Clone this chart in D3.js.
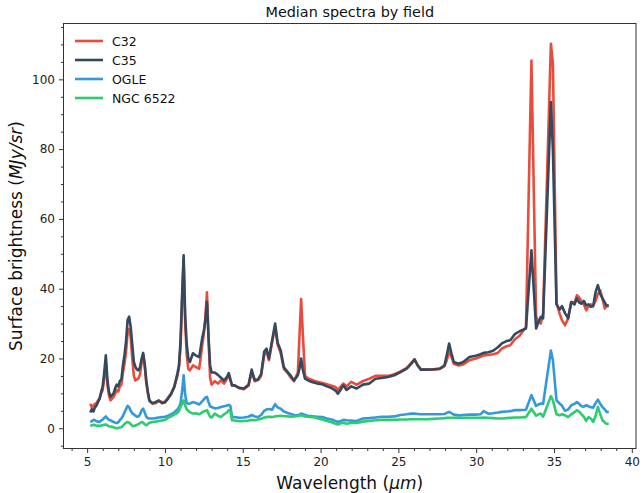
<!DOCTYPE html>
<html>
<head>
<meta charset="utf-8">
<script src="https://cdn.jsdelivr.net/npm/d3@7"></script>
<style>
  html, body { margin: 0; padding: 0; background: #fff; }
  svg { display: block; font-family: "DejaVu Sans", sans-serif; }
</style>
</head>
<body>
<svg id="chart" width="642" height="493"></svg>
<script>
// Wavelength grid (µm): finer sampling in the short-wavelength module, coarser beyond 14 µm
const wavelength = [
  5.2, 5.3, 5.4, 5.5, 5.6, 5.7, 5.8, 5.9, 6.0, 6.1, 6.2, 6.3, 6.4, 6.5, 6.6, 6.7, 6.8, 6.9,
  7.0, 7.1, 7.2, 7.3, 7.4, 7.5, 7.6, 7.7, 7.8, 7.9, 8.0, 8.1, 8.2, 8.3, 8.4, 8.5, 8.6, 8.7,
  8.8, 8.9, 9.0, 9.2, 9.4, 9.6, 9.8, 10.0, 10.2, 10.4, 10.6, 10.8, 10.9, 11.0, 11.1, 11.2,
  11.3, 11.4, 11.5, 11.6, 11.8, 12.0, 12.2, 12.4, 12.5, 12.6, 12.7, 12.8, 12.9, 13.0, 13.2,
  13.4, 13.6, 13.8, 14.0, 14.1, 14.2,
  14.31, 14.47, 14.77, 15.07, 15.37, 15.57, 15.77, 15.98, 16.18, 16.38, 16.53, 16.68, 16.88,
  17.08, 17.24, 17.44, 17.64, 17.89, 18.09, 18.29, 18.54, 18.64, 18.75, 18.85, 19.0, 19.2,
  19.5, 19.8, 20.1, 20.41, 20.71, 20.96, 21.11, 21.31, 21.46, 21.67, 21.97, 22.32, 22.72,
  23.13, 23.53, 23.93, 24.33, 24.74, 25.14, 25.54, 25.84, 26.04, 26.24, 26.44, 26.85, 27.25,
  27.66, 27.96, 28.11, 28.26, 28.41, 28.56, 28.86, 29.17, 29.57, 29.97, 30.28, 30.48, 30.78,
  31.09, 31.39, 31.65, 31.95, 32.19, 32.49, 32.79, 33.2, 33.55, 33.85, 34.0, 34.15, 34.3,
  34.8, 34.93, 35.16, 35.36, 35.51, 35.71, 35.91, 36.11, 36.32, 36.47, 36.62, 36.77, 36.92,
  37.07, 37.22, 37.37, 37.52, 37.67, 37.82, 37.97, 38.12, 38.27, 38.37, 38.52
];

// Median surface brightness (MJy/sr) per field
const c32 = [
  7.0, 6.0, 6.5, 7.0, 7.2, 8.0, 8.5, 10.0, 11.0, 14.5, 19.0, 12.5, 9.5, 8.0, 8.5, 9.0, 10.0, 11.0,
  10.5, 12.0, 12.5, 16.0, 18.5, 22.0, 27.5, 28.5, 26.0, 20.0, 15.0, 13.7, 14.0, 14.3, 15.5, 19.0, 21.0, 17.5,
  13.0, 10.0, 7.8, 7.0, 7.2, 7.8, 7.5, 7.6, 8.8, 10.0, 12.0, 15.0, 17.5, 23.0, 36.0, 48.5,
  30.0, 21.0, 17.0, 16.6, 18.0, 17.5, 17.0, 24.0, 27.0, 32.0, 39.0, 26.0, 14.5, 12.5, 13.5,
  12.8, 13.7, 12.8, 14.3, 15.5, 14.0,
  12.3, 12.3, 11.5, 11.2, 12.2, 16.0, 13.5, 13.8, 15.0, 21.0, 22.0, 19.5, 24.5,
  29.0, 24.0, 21.5, 17.0, 15.8, 14.5, 13.5, 16.0, 26.0, 37.0, 28.0, 15.0, 14.3,
  13.8, 13.3, 13.0, 12.6, 12.2, 11.8, 11.0, 12.0, 12.8, 12.0, 13.3, 12.5, 13.5,
  14.2, 15.0, 15.0, 15.0, 15.5, 16.3, 17.3, 18.8, 19.8, 18.0, 17.0, 16.8, 16.8,
  17.0, 17.8, 19.5, 22.0, 20.5, 18.5, 18.0, 18.3, 19.5, 20.0, 20.5, 20.9, 21.0,
  21.2, 21.6, 22.8, 23.5, 23.8, 25.5, 26.5, 29.0, 105.4, 32.0, 30.5, 30.0, 33.0,
  110.2, 104.5, 36.0, 32.9, 31.0, 29.5, 31.5, 36.2, 36.0, 38.1, 37.5, 36.2, 35.5,
  33.8, 35.0, 35.5, 35.2, 36.5, 38.5, 39.5, 37.0, 34.3, 35.0, 35.0
];

const c35 = [
  4.5, 5.5, 4.8, 6.0, 6.5, 7.5, 8.5, 10.4, 12.0, 16.0, 20.9, 14.0, 10.5, 9.0, 9.5, 10.0, 11.5, 12.5,
  12.0, 13.5, 14.0, 18.0, 21.0, 25.0, 31.0, 32.0, 29.0, 24.0, 19.0, 17.6, 16.8, 16.6, 17.5, 20.0, 21.6, 18.5,
  13.7, 10.5, 8.0, 7.2, 7.5, 8.0, 7.2, 7.4, 8.5, 9.8, 11.8, 15.7, 18.0, 25.0, 38.0, 49.6,
  32.0, 24.0, 20.0, 19.0, 21.5, 20.8, 20.4, 26.0, 28.0, 31.0, 36.2, 26.0, 18.0, 16.0, 16.0,
  15.3, 14.5, 13.7, 14.8, 15.8, 14.0,
  12.3, 12.3, 11.6, 11.4, 12.5, 16.8, 13.8, 14.0, 15.5, 22.0, 22.8, 20.0, 25.0,
  30.0, 24.5, 22.3, 17.5, 16.1, 15.0, 13.7, 15.2, 17.0, 20.0, 17.0, 14.2, 13.7,
  13.2, 12.8, 12.6, 12.0, 11.5, 10.8, 9.9, 11.2, 12.3, 11.0, 12.0, 11.4, 12.5,
  12.8, 14.2, 14.4, 14.7, 15.2, 16.1, 17.1, 18.5, 19.7, 18.0, 16.8, 16.8, 16.9,
  17.1, 18.0, 21.0, 24.3, 21.5, 19.0, 18.5, 19.0, 20.4, 20.8, 21.2, 21.6, 21.8,
  22.2, 23.2, 24.3, 25.0, 25.2, 27.0, 27.8, 28.6, 51.0, 28.6, 30.5, 31.9, 31.5,
  93.5, 79.7, 35.5, 34.0, 35.0, 33.0, 31.5, 36.2, 35.5, 37.2, 36.0, 35.7, 36.5,
  35.2, 35.5, 34.8, 35.0, 39.0, 41.0, 38.5, 37.2, 36.0, 35.2, 35.2
];

const ogle = [
  1.8, 2.0, 2.4, 2.3, 2.0, 1.9, 1.8, 2.2, 2.5, 3.0, 3.4, 2.8, 2.4, 2.3, 2.0, 1.8, 1.6, 1.5,
  1.7, 2.3, 2.8, 3.5, 4.5, 5.5, 6.4, 6.0, 5.0, 4.3, 4.0, 3.6, 3.3, 3.4, 4.0, 5.2, 5.6, 4.5,
  3.3, 2.9, 2.8, 2.8, 2.9, 3.1, 3.2, 3.3, 3.6, 4.0, 4.6, 5.4, 6.0, 7.1, 10.5, 15.2,
  9.5, 7.2, 7.0, 7.1, 7.5, 7.2, 6.8, 7.8, 8.3, 8.8, 9.0, 7.5, 6.3, 6.1, 5.7,
  5.8, 6.1, 6.3, 6.5, 6.7, 6.5,
  3.3, 3.2, 3.0, 3.1, 3.3, 3.8, 3.4, 3.2, 3.8, 5.0, 5.4, 5.5, 5.3,
  6.9, 6.0, 5.6, 4.8, 4.4, 4.1, 3.8, 3.7, 3.9, 4.2, 4.1, 3.8, 3.6,
  3.4, 3.3, 3.2, 2.8, 2.5, 2.1, 1.8, 2.1, 2.4, 2.3, 2.2, 2.1, 2.8,
  2.9, 3.1, 3.3, 3.3, 3.4, 3.8, 4.0, 4.2, 4.2, 4.1, 4.0, 4.0, 4.0,
  4.0, 4.1, 4.4, 4.7, 4.3, 3.9, 3.7, 3.8, 3.9, 3.9, 4.0, 4.9, 4.2,
  4.3, 4.5, 4.7, 4.8, 4.9, 5.2, 5.2, 5.3, 9.5, 6.4, 6.8, 7.1, 7.0,
  22.3, 19.5, 8.0, 7.1, 6.5, 5.0, 5.4, 6.6, 7.0, 7.5, 7.0, 6.3, 6.2,
  6.6, 6.3, 6.0, 5.9, 7.2, 8.2, 7.0, 6.0, 5.4, 4.7, 4.7
];

const ngc6522 = [
  0.9, 0.8, 1.0, 0.9, 0.7, 0.8, 0.6, 0.8, 0.9, 1.0, 1.1, 0.8, 0.6, 0.5, 0.4, 0.3, 0.1, 0.0,
  0.1, 0.2, 0.3, 0.7, 1.2, 1.6, 1.8, 1.6, 1.2, 0.7, 0.6, 0.8, 1.0, 1.2, 1.5, 1.8, 1.6, 1.1,
  0.9, 1.2, 1.6, 1.8, 1.9, 2.1, 2.2, 2.4, 3.0, 3.4, 3.9, 4.4, 5.0, 6.1, 7.0, 8.0,
  6.5, 5.4, 5.0, 4.6, 4.2, 4.3, 4.0, 4.6, 4.8, 5.0, 5.2, 4.2, 3.3, 3.1, 4.2,
  3.6, 3.2, 4.0, 4.6, 5.2, 5.0,
  2.3, 2.2, 2.0, 2.1, 2.2, 2.4, 2.3, 2.5, 2.7, 3.1, 3.2, 3.3, 3.2,
  3.4, 3.5, 3.6, 3.5, 3.4, 3.3, 3.4, 3.5, 3.6, 3.7, 3.6, 3.4, 3.3,
  3.2, 2.9, 2.5, 2.1, 1.7, 1.3, 1.1, 1.4, 1.6, 1.3, 1.5, 1.5, 1.9,
  2.1, 2.3, 2.4, 2.4, 2.4, 2.5, 2.5, 2.6, 2.6, 2.6, 2.6, 2.6, 2.7,
  2.8, 2.9, 3.0, 3.0, 3.0, 3.0, 3.0, 3.0, 3.0, 3.0, 3.0, 3.1, 3.0,
  2.9, 2.8, 2.8, 2.9, 3.0, 3.1, 3.1, 3.2, 5.6, 3.6, 4.0, 4.2, 3.3,
  9.2, 8.0, 4.0, 3.7, 4.0, 3.7, 3.2, 4.0, 4.6, 5.2, 4.8, 4.0, 3.3,
  2.1, 3.2, 2.8, 1.8, 3.5, 6.1, 4.0, 2.3, 1.6, 1.3, 1.3
];

const seriesNames = ["C32", "C35", "OGLE", "NGC 6522"];
const seriesColors = ["#e74c3c", "#34495e", "#3498db", "#2ecc71"];
const seriesValues = [c32, c35, ogle, ngc6522];

const xTicks = [5, 10, 15, 20, 25, 30, 35, 40];
const yTicks = [0, 20, 40, 60, 80, 100];

const svg = d3.select("#chart");
const plot = { left: 63.5, right: 636, top: 23.5, bottom: 448.5 };

const x = d3.scaleLinear().domain([3.48, 40.27]).range([plot.left, plot.right]);
const y = d3.scaleLinear().domain([-5.8, 116]).range([plot.bottom, plot.top]);

// Spectra
const line = d3.line()
  .x((d, i) => x(wavelength[i]))
  .y(d => y(d));

const clip = svg.append("clipPath").attr("id", "plot-clip")
  .append("rect")
  .attr("x", plot.left).attr("y", plot.top)
  .attr("width", plot.right - plot.left).attr("height", plot.bottom - plot.top);

const lines = svg.append("g").attr("clip-path", "url(#plot-clip)");
seriesValues.forEach((vals, k) => {
  lines.append("path")
    .datum(vals)
    .attr("d", line)
    .attr("fill", "none")
    .attr("stroke", seriesColors[k])
    .attr("stroke-width", 2.6)
    .attr("stroke-linejoin", "round")
    .attr("stroke-linecap", "butt");
});

// Axes
const axisColor = "#333";
const xMinor = d3.range(4, 41, 1).filter(v => v % 5 !== 0);
const yMinor = d3.range(-5, 116, 5).filter(v => v % 20 !== 0);

const xAxis = svg.append("g").attr("transform", `translate(0,${plot.bottom})`)
  .call(d3.axisBottom(x).tickValues(xTicks).tickFormat(d3.format("d")).tickSize(4.5).tickPadding(4));
svg.append("g").attr("transform", `translate(0,${plot.bottom})`)
  .call(d3.axisBottom(x).tickValues(xMinor).tickFormat("").tickSize(2.5))
  .call(g => g.select(".domain").remove());

const yAxis = svg.append("g").attr("transform", `translate(${plot.left},0)`)
  .call(d3.axisLeft(y).tickValues(yTicks).tickFormat(d3.format("d")).tickSize(4.5).tickPadding(4));
svg.append("g").attr("transform", `translate(${plot.left},0)`)
  .call(d3.axisLeft(y).tickValues(yMinor).tickFormat("").tickSize(2.5))
  .call(g => g.select(".domain").remove());

svg.selectAll(".tick line").attr("stroke", axisColor).attr("stroke-width", 1);
svg.selectAll(".tick text")
  .attr("fill", "#222")
  .style("font-family", "'DejaVu Sans', sans-serif")
  .style("font-size", "12px");
svg.selectAll(".domain").remove();

// Frame around the plot area
svg.append("rect")
  .attr("x", plot.left).attr("y", plot.top)
  .attr("width", plot.right - plot.left).attr("height", plot.bottom - plot.top)
  .attr("fill", "none").attr("stroke", axisColor).attr("stroke-width", 1);

// Title and axis labels
const cx = (plot.left + plot.right) / 2;
svg.append("text")
  .attr("x", cx).attr("y", 16.5)
  .attr("text-anchor", "middle")
  .style("font-size", "14.4px").attr("fill", "#111")
  .text("Median spectra by field");

const xl = svg.append("text")
  .attr("x", cx).attr("y", 489)
  .attr("text-anchor", "middle")
  .style("font-size", "17px").attr("fill", "#111");
xl.append("tspan").text("Wavelength (");
xl.append("tspan").style("font-style", "italic").text("μm");
xl.append("tspan").text(")");

const cy = (plot.top + plot.bottom) / 2;
const yl = svg.append("text")
  .attr("transform", `translate(22,${cy}) rotate(-90)`)
  .attr("text-anchor", "middle")
  .style("font-size", "17px").attr("fill", "#111");
yl.append("tspan").text("Surface brightness (");
yl.append("tspan").style("font-style", "italic").text("MJy/sr");
yl.append("tspan").text(")");

// Legend
const legend = svg.append("g");
seriesNames.forEach((name, k) => {
  const ly = 41 + k * 19;
  legend.append("line")
    .attr("x1", 75).attr("x2", 103).attr("y1", ly).attr("y2", ly)
    .attr("stroke", seriesColors[k]).attr("stroke-width", 2.6);
  legend.append("text")
    .attr("x", 112).attr("y", ly)
    .attr("dy", "0.36em")
    .style("font-size", "12.5px").attr("fill", "#111")
    .text(name);
});
</script>
</body>
</html>
